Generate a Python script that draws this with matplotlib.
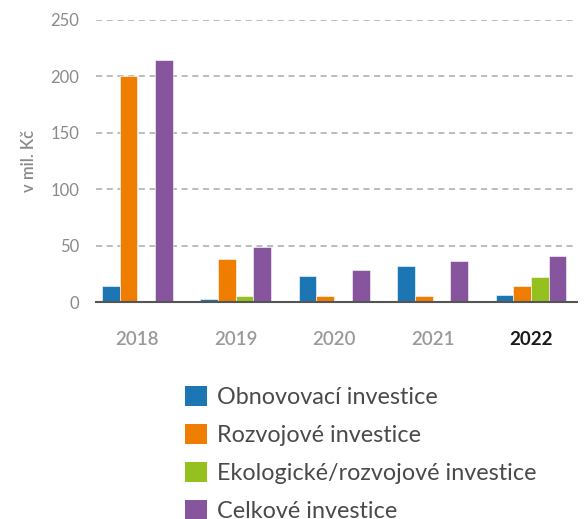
import matplotlib.pyplot as plt
import numpy as np
from matplotlib.patches import Patch

# data
years = ["2018", "2019", "2020", "2021", "2022"]
obnovovaci = [14, 2.5, 23, 31.5, 6.5]
rozvojove = [200, 38, 5, 5, 14.5]
ekologicke = [1, 5, 1, 1, 22.5]
celkove = [214, 49, 28, 36, 41]

series_names = ["Obnovovací investice", "Rozvojové investice",
                "Ekologické/rozvojové investice", "Celkové investice"]
colors = ["#1c76b3", "#ef7d00", "#95c11f", "#87559e"]

plt.rcParams['font.family'] = ['Lato', 'DejaVu Sans']

fig = plt.figure(figsize=(5.84, 5.19), dpi=100)
ax = fig.add_axes([0.1644, 0.418, 0.824, 0.544])

x = np.arange(len(years))
w = 0.18
all_series = [obnovovaci, rozvojove, ekologicke, celkove]
for i, (vals, c) in enumerate(zip(all_series, colors)):
    ax.bar(x + (i - 1.5) * w, vals, w, color=c, edgecolor="white",
           linewidth=0.4, zorder=3)

ax.set_xlim(-0.42, 4.47)
ax.set_ylim(0, 250)
ax.set_yticks([0, 50, 100, 150, 200, 250])
for yv in [50, 100, 150, 200, 250]:
    ax.axhline(yv, color="#aaaaaa", linestyle=(0, (4, 3)), linewidth=1.1, zorder=1)

for s in ["top", "right", "left"]:
    ax.spines[s].set_visible(False)
ax.spines["bottom"].set_color("#555555")
ax.spines["bottom"].set_linewidth(1.5)
ax.spines["bottom"].set_zorder(4)

ax.tick_params(axis="y", length=0, pad=12, labelsize=12, labelcolor="#8a8a8a")
ax.tick_params(axis="x", length=0, pad=21)
ax.set_xticks(x)
ax.set_xticklabels(years, fontsize=13.5)
for lbl in ax.get_xticklabels():
    if lbl.get_text() == "2022":
        lbl.set_color("#1a1a1a")
        lbl.set_fontweight("bold")
    else:
        lbl.set_color("#9a9a9a")
        lbl.set_fontweight("semibold")

ax.set_ylabel("v mil. Kč", fontsize=12, color="#8a8a8a", fontweight="semibold", labelpad=10)

handles = [Patch(facecolor=c, edgecolor="none") for c in colors]
leg = fig.legend(handles, series_names, loc="upper left",
                 bbox_to_anchor=(185 / 584, 1 - 386 / 519),
                 frameon=False, fontsize=16.8, handlelength=0.95, handleheight=0.95,
                 handletextpad=0.42, labelspacing=0.68, borderaxespad=0, borderpad=0)
for t in leg.get_texts():
    t.set_color("#4a4a4a")
    t.set_fontweight("normal")

fig.savefig("out.png", dpi=100)
